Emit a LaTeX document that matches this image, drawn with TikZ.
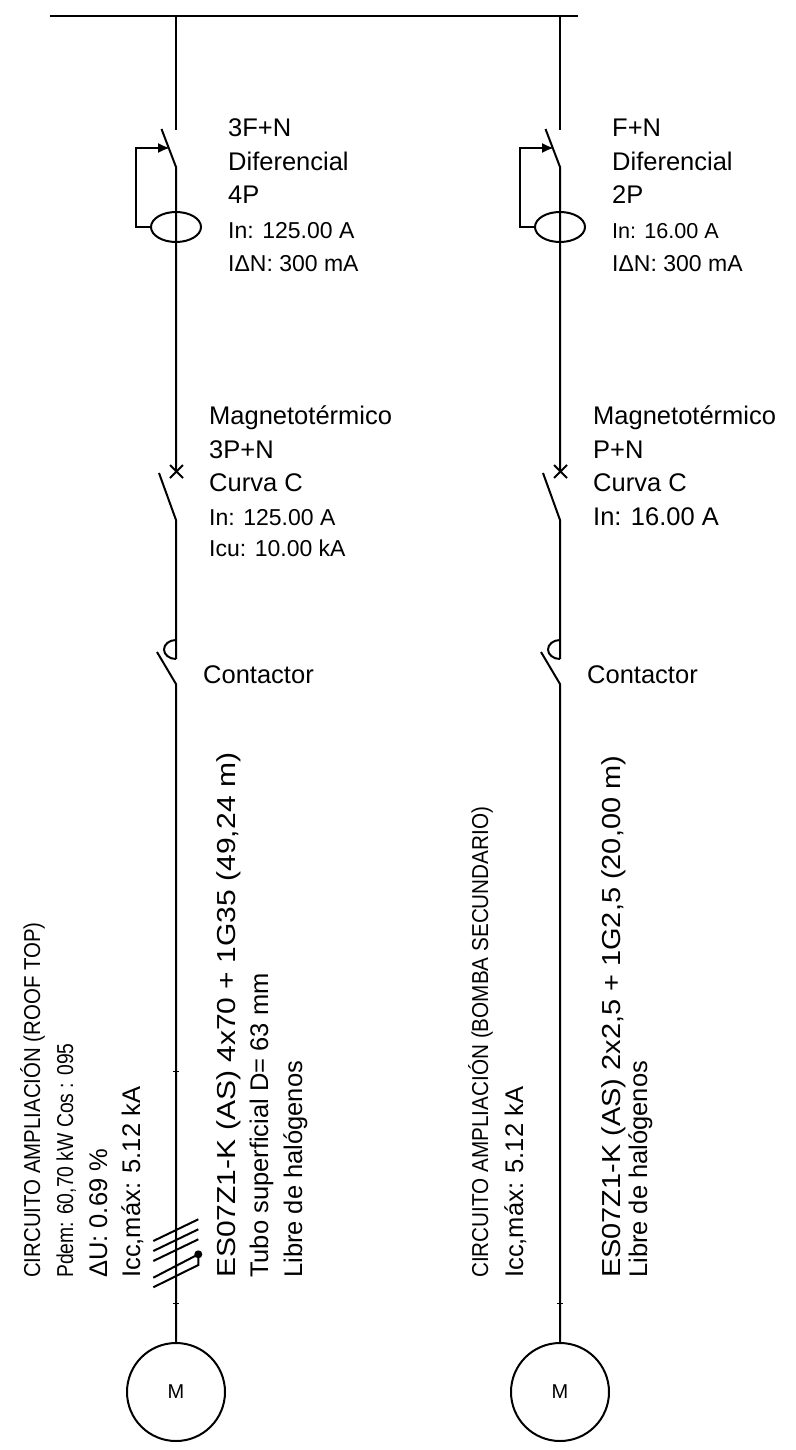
\documentclass[tikz,border=0pt]{standalone}
\usepackage{fontspec}
\setmainfont{Liberation Sans}
\usetikzlibrary{shapes.geometric,arrows.meta}
\begin{document}
\begin{tikzpicture}[
  x=1pt, y=-1pt,
  wire/.style={line width=2pt},
  lbl/.style={anchor=base west, inner sep=0pt, font=\fontsize{25.5}{25.5}\selectfont},
  small/.style={lbl, font=\fontsize{23}{23}\selectfont},
  vlbl/.style={lbl, rotate=90},
  cable/.style={vlbl, font=\fontsize{26}{26}\selectfont},
  circ/.style={vlbl, font=\fontsize{23}{23}\selectfont},
  toroid/.style={ellipse, draw, wire, minimum width=50pt, minimum height=30pt, inner sep=0pt},
  motor/.style={circle, draw, wire, minimum size=98pt, inner sep=0pt, font=\fontsize{20}{20}\selectfont},
  relay/.style={wire, -{Latex[length=12pt,width=10pt]}}
]
\useasboundingbox (0,0) rectangle (795,1450);

% Busbar
\coordinate (bus_w) at (50,16);
\coordinate (bus_e) at (578,16);
\draw[wire] (bus_w) -- (bus_e);

% Left circuit
\coordinate (a0) at (176,16);
\coordinate (a1) at (176,130);
\coordinate (a2) at (161.5,129);
\coordinate (a3) at (176,167);
\coordinate (a4) at (176,472);
\coordinate (a5) at (159,473);
\coordinate (a6) at (176,520);
\coordinate (a7) at (176,640);
\coordinate (a8) at (176,659);
\coordinate (a9) at (157,652);
\coordinate (a10) at (176,684);
\node[toroid] (diff_a) at (176,227) {};
\node[motor] (motor_a) at (176,1392) {M};
\draw[wire] (a0) -- (a1);
\draw[wire] (a2) -- (a3) -- (a4);
\draw[relay] (diff_a.west) -- ++(-14,0) |- (170,148);
\draw[wire] (170,465) -- (183,478) (183,465) -- (170,478);
\draw[wire] (a5) -- (a6) -- (a8);
\draw[wire] (a7) arc[start angle=-90, end angle=-270, x radius=12, y radius=9.5];
\draw[wire] (a9) -- (a10) -- (motor_a);

% Conductors
\draw[wire] (153.3,1241) -- (198.3,1219.3);
\draw[wire] (153.3,1251) -- (198.3,1229.3);
\draw[wire] (153.3,1261) -- (198.3,1239.3);
\draw[wire] (153.3,1277.7) -- (198.3,1254.3);
\draw[wire] (153.3,1287.3) -- (198.3,1265) -- (198.3,1254.3);
\fill (198.3,1254.3) circle (4);
\draw[line width=1pt] (173,1071) -- (179,1071);
\draw[line width=1pt] (173,1303) -- (179,1303);

% Right circuit
\coordinate (b0) at (560,16);
\coordinate (b1) at (560,130);
\coordinate (b2) at (545.5,129);
\coordinate (b3) at (560,167);
\coordinate (b4) at (560,472);
\coordinate (b5) at (543,473);
\coordinate (b6) at (560,520);
\coordinate (b7) at (560,640);
\coordinate (b8) at (560,659);
\coordinate (b9) at (541,652);
\coordinate (b10) at (560,684);
\node[toroid] (diff_b) at (560,227) {};
\node[motor] (motor_b) at (560,1392) {M};
\draw[wire] (b0) -- (b1);
\draw[wire] (b2) -- (b3) -- (b4);
\draw[relay] (diff_b.west) -- ++(-14,0) |- (554,148);
\draw[wire] (554,465) -- (567,478) (567,465) -- (554,478);
\draw[wire] (b5) -- (b6) -- (b8);
\draw[wire] (b7) arc[start angle=-90, end angle=-270, x radius=12, y radius=9.5];
\draw[wire] (b9) -- (b10) -- (motor_b);
\draw[line width=1pt] (557,1303) -- (563,1303);

% Labels, left
\node[lbl] (a_t1) at (228,137) {3F+N};
\node[lbl] (a_t2) at (228,171) {Diferencial};
\node[lbl] (a_t3) at (228,204) {4P};
\node[small] (a_t4) at (228,238) {In: 125.00 A};
\node[small] (a_t5) at (228,271) {IΔN: 300 mA};
\node[lbl] (a_m1) at (209,424) {Magnetotérmico};
\node[lbl] (a_m2) at (209,458) {3P+N};
\node[lbl] (a_m3) at (209,491) {Curva C};
\node[small] (a_m4) at (209,525) {In: 125.00 A};
\node[small] (a_m5) at (209,556) {Icu: 10.00 kA};
\node[lbl] (a_c) at (203,683) {Contactor};

% Labels, right
\node[lbl] (b_t1) at (612,137) {F+N};
\node[lbl] (b_t2) at (612,171) {Diferencial};
\node[lbl] (b_t3) at (612,204) {2P};
\node[small] (b_t4) at (612,238) {\scalebox{.94}{In: 16.00 A}};
\node[small] (b_t5) at (612,271) {IΔN: 300 mA};
\node[lbl] (b_m1) at (593,424) {Magnetotérmico};
\node[lbl] (b_m2) at (593,458) {P+N};
\node[lbl] (b_m3) at (593,491) {Curva C};
\node[lbl] (b_m4) at (593,525) {In: 16.00 A};
\node[lbl] (b_c) at (587,683) {Contactor};

% Vertical text, left
\node[circ] (a_v1) at (40,1278) {\scalebox{.888}[1]{CIRCUITO AMPLIACIÓN (ROOF TOP)}};
\node[circ] (a_v2) at (73,1278) {\scalebox{.84}[1]{Pdem: 60,70 kW Cos : 095}};
\node[lbl, rotate=90] (a_v3) at (107,1278) {ΔU: 0.69 \%};
\node[lbl, rotate=90] (a_v4) at (140,1278) {Icc,máx: 5.12 kA};
\node[cable] (a_v5) at (235,1278) {\scalebox{1.155}[1]{ES07Z1-K (AS) 4x70 + 1G35 (49,24 m)}};
\node[lbl, rotate=90] (a_v6) at (268,1278) {Tubo superficial D= 63 mm};
\node[lbl, rotate=90] (a_v7) at (302,1278) {Libre de halógenos};

% Vertical text, right
\node[circ] (b_v1) at (488,1278) {\scalebox{.9}[1]{CIRCUITO AMPLIACIÓN (BOMBA SECUNDARIO)}};
\node[lbl, rotate=90] (b_v2) at (523,1278) {Icc,máx: 5.12 kA};
\node[cable] (b_v3) at (620,1278) {\scalebox{1.113}[1]{ES07Z1-K (AS) 2x2,5 + 1G2,5 (20,00 m)}};
\node[lbl, rotate=90] (b_v4) at (647,1278) {Libre de halógenos};
\end{tikzpicture}
\end{document}
